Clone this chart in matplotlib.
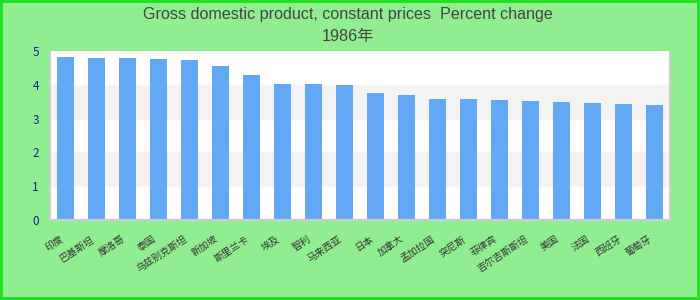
import matplotlib.pyplot as plt
from matplotlib.transforms import ScaledTranslation

plt.rcParams['font.family'] = ['Noto Sans CJK SC', 'DejaVu Sans']

countries = ['印度', '巴基斯坦', '摩洛哥', '泰国', '乌兹别克斯坦', '新加坡', '斯里兰卡',
             '埃及', '智利', '马来西亚', '日本', '加拿大', '孟加拉国', '突尼斯',
             '菲律宾', '吉尔吉斯斯坦', '美国', '法国', '西班牙', '葡萄牙']
growth = [4.83, 4.79, 4.79, 4.76, 4.73, 4.56, 4.29, 4.02, 4.02, 3.99,
          3.76, 3.70, 3.58, 3.58, 3.55, 3.52, 3.49, 3.46, 3.43, 3.40]
title_lines = ['Gross domestic product, constant prices  Percent change', '1986年']

fig = plt.figure(figsize=(7, 3), dpi=100)
fig.patch.set_facecolor('#90ee90')
fig.patch.set_edgecolor('#22e022')
fig.patch.set_linewidth(3)

ax = fig.add_axes([50 / 700, 80 / 300, 620 / 700, 169 / 300])
ax.set_facecolor('white')

# alternating bands
for lo in (1, 3):
    ax.axhspan(lo, lo + 1, color='#f3f3f3', zorder=0)

x = range(len(countries))
ax.bar(x, growth, width=0.55, color='#62a8f4', zorder=2)

ax.set_xlim(-0.5, len(countries) - 0.5)
ax.set_ylim(0, 5)
ax.set_yticks([0, 1, 2, 3, 4, 5])
ax.tick_params(axis='y', length=0, pad=8, labelsize=8.5, labelcolor='#1c1c96')
ax.tick_params(axis='x', length=0, pad=10)

ax.set_xticks(list(x))
ax.set_xticklabels(countries, rotation=33, ha='right', va='top',
                   rotation_mode='anchor', fontsize=7, color='#333333')
shift = ScaledTranslation(-6 / 100, 0, fig.dpi_scale_trans)
for lab in ax.get_xticklabels():
    lab.set_transform(lab.get_transform() + shift)

for side in ('left', 'bottom', 'right'):
    ax.spines[side].set_color('#cccccc')
    ax.spines[side].set_linewidth(1.5)
ax.spines['top'].set_visible(False)

fig.text(0.497, 0.953, title_lines[0], ha='center', va='center', fontsize=11.6,
         color='#444444', family=['Liberation Sans', 'Noto Sans CJK SC'])
fig.text(0.497, 0.880, title_lines[1], ha='center', va='center', fontsize=11.6,
         color='#444444', family=['Liberation Sans', 'Noto Sans CJK SC'])

fig.savefig('out.png', dpi=100)
